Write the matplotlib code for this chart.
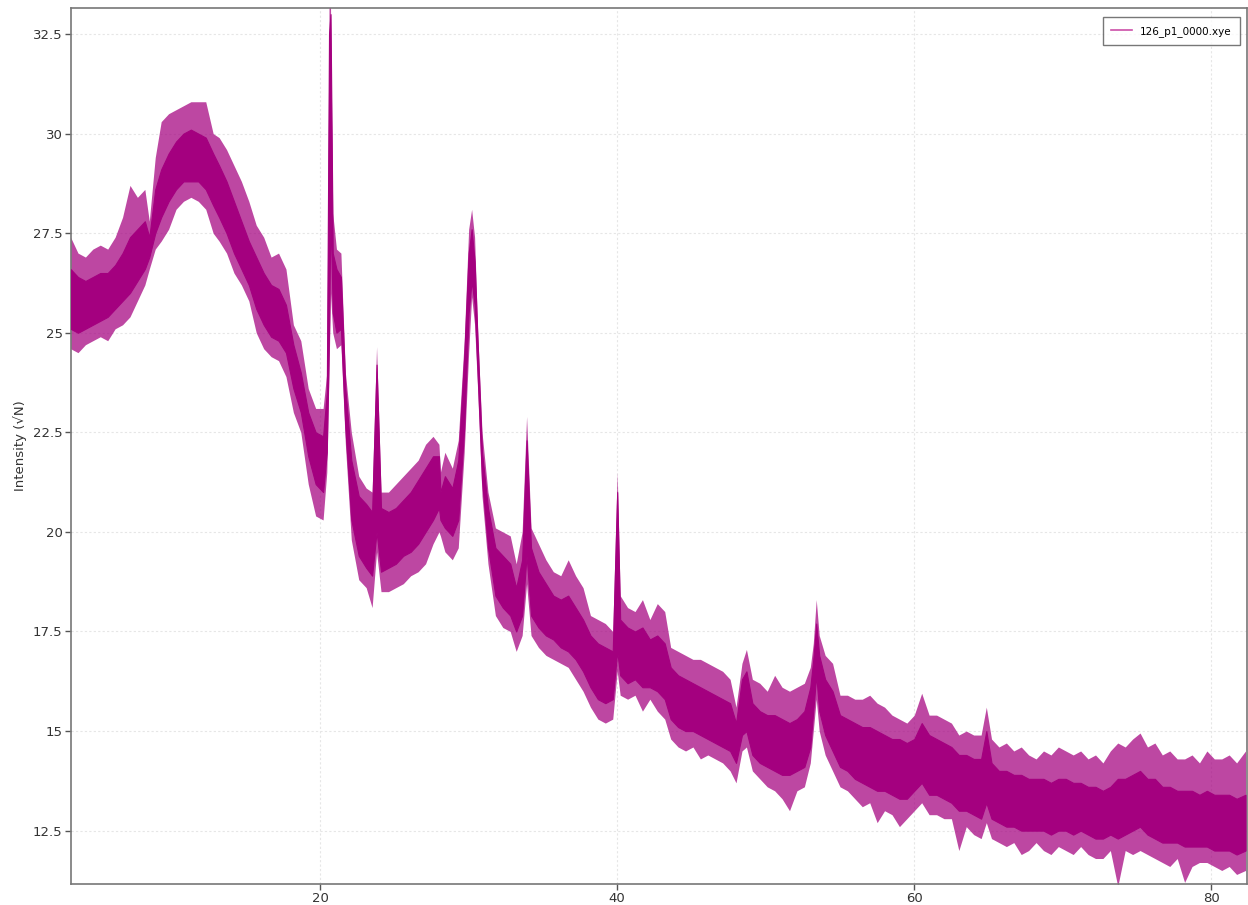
import numpy as np
import matplotlib
matplotlib.use("Agg")
import matplotlib.pyplot as plt

# 2-theta sample positions of the diffraction scan
two_theta = [
    3.2, 3.7, 4.2, 4.7, 5.2, 5.7, 6.2, 6.7, 7.2, 7.7, 8.2, 8.5, 8.9, 9.3, 9.8,
    10.3, 10.8, 11.3, 11.8, 12.3, 12.8, 13.2, 13.7, 14.2, 14.7, 15.2, 15.7,
    16.2, 16.7, 17.2, 17.7, 18.2, 18.7, 19.2, 19.7, 20.2, 20.45, 20.6, 20.7,
    20.85, 21.1, 21.4, 21.7, 22.1, 22.6, 23.1, 23.5, 23.8, 24.1, 24.6, 25.1,
    25.6, 26.1, 26.6, 27.1, 27.6, 28.0, 28.1, 28.4, 28.9, 29.3, 29.7, 30.0,
    30.2, 30.4, 30.6, 30.9, 31.3, 31.8, 32.3, 32.8, 33.2, 33.6, 33.9, 34.2,
    34.7, 35.2, 35.7, 36.2, 36.7, 37.2, 37.7, 38.2, 38.7, 39.2, 39.7, 40.0,
    40.2, 40.7, 41.2, 41.7, 42.2, 42.7, 43.2, 43.6, 44.1, 44.6, 45.1, 45.6,
    46.1, 46.6, 47.1, 47.6, 48.0, 48.4, 48.7, 49.1, 49.6, 50.1, 50.6, 51.1,
    51.6, 52.1, 52.6, 53.0, 53.2, 53.4, 53.6, 54.0, 54.5, 55.0, 55.5, 56.0,
    56.5, 57.0, 57.5, 58.0, 58.5, 59.0, 59.5, 60.0, 60.5, 61.0, 61.5, 62.0,
    62.5, 63.0, 63.5, 64.0, 64.5, 64.85, 65.2, 65.7, 66.2, 66.7, 67.2, 67.7,
    68.2, 68.7, 69.2, 69.7, 70.2, 70.7, 71.2, 71.7, 72.2, 72.7, 73.2, 73.7,
    74.2, 74.7, 75.2, 75.7, 76.2, 76.7, 77.2, 77.7, 78.2, 78.7, 79.2, 79.7,
    80.2, 80.7, 81.2, 81.7, 82.3,
]

# highest counts reached around each position (sqrt scale)
peak_high = [
    27.4, 27.0, 26.9, 27.1, 27.2, 27.1, 27.4, 27.9, 28.7, 28.4, 28.6, 27.8, 29.4, 30.3, 30.5,
    30.6, 30.7, 30.8, 30.8, 30.8, 30.0, 29.9, 29.6, 29.2, 28.8, 28.3, 27.7,
    27.4, 26.9, 27.0, 26.6, 25.2, 24.8, 23.6, 23.1, 23.1, 24.0, 33.2, 33.2,
    28.0, 27.1, 27.0, 24.0, 22.5, 21.4, 21.1, 21.0, 24.65, 21.0, 21.0, 21.2,
    21.4, 21.6, 21.8, 22.2, 22.4, 22.2, 21.5, 22.0, 21.6, 22.3, 24.8, 27.6,
    28.1, 27.4, 25.1, 22.5, 21.0, 20.1, 20.0, 19.9, 19.2, 20.0, 22.9, 20.1,
    19.7, 19.3, 19.0, 18.9, 19.3, 18.9, 18.6, 17.9, 17.8, 17.7, 17.5, 21.5,
    18.4, 18.1, 18.0, 18.3, 17.8, 18.2, 18.0, 17.1, 17.0, 16.9, 16.8, 16.8,
    16.7, 16.6, 16.5, 16.3, 15.6, 16.7, 17.05, 16.3, 16.2, 16.0, 16.4, 16.1,
    16.0, 16.1, 16.2, 16.6, 17.2, 18.3, 17.4, 16.9, 16.7, 15.9, 15.9, 15.8,
    15.8, 15.9, 15.7, 15.6, 15.4, 15.3, 15.2, 15.4, 15.95, 15.4, 15.4, 15.3,
    15.2, 14.9, 15.0, 14.9, 14.9, 15.6, 14.8, 14.6, 14.7, 14.5, 14.6, 14.4,
    14.3, 14.5, 14.4, 14.6, 14.5, 14.4, 14.5, 14.3, 14.4, 14.2, 14.5, 14.7,
    14.6, 14.8, 14.95, 14.6, 14.7, 14.4, 14.5, 14.3, 14.3, 14.4, 14.2, 14.5,
    14.3, 14.3, 14.4, 14.2, 14.5,
]

# lowest counts reached around each position
peak_low = [
    24.6, 24.5, 24.7, 24.8, 24.9, 24.8, 25.1, 25.2, 25.4, 25.8, 26.2, 26.6, 27.1, 27.3, 27.6,
    28.1, 28.3, 28.4, 28.3, 28.1, 27.5, 27.3, 27.0, 26.5, 26.2, 25.8, 25.0,
    24.6, 24.4, 24.3, 23.9, 23.0, 22.5, 21.2, 20.4, 20.3, 21.5, 24.0, 26.0,
    25.0, 24.6, 24.7, 22.2, 19.8, 18.8, 18.6, 18.1, 19.5, 18.5, 18.5, 18.6,
    18.7, 18.9, 19.0, 19.2, 19.7, 20.0, 19.9, 19.5, 19.3, 19.6, 22.0, 24.5,
    25.9, 25.2, 23.6, 20.9, 19.2, 17.9, 17.6, 17.5, 17.0, 17.4, 18.7, 17.4,
    17.1, 16.9, 16.8, 16.7, 16.6, 16.3, 16.0, 15.6, 15.3, 15.2, 15.3, 16.5,
    15.9, 15.8, 15.9, 15.5, 15.8, 15.5, 15.3, 14.8, 14.6, 14.5, 14.6, 14.3,
    14.4, 14.3, 14.2, 14.0, 13.7, 14.5, 14.6, 14.0, 13.8, 13.6, 13.5, 13.3,
    13.0, 13.5, 13.6, 14.2, 15.0, 15.8, 15.0, 14.4, 14.0, 13.6, 13.5, 13.3,
    13.1, 13.2, 12.7, 13.0, 12.9, 12.6, 12.8, 13.0, 13.2, 12.9, 12.9, 12.8,
    12.8, 12.0, 12.6, 12.4, 12.3, 12.7, 12.3, 12.2, 12.1, 12.2, 11.9, 12.0,
    12.2, 12.0, 11.9, 12.1, 12.0, 11.9, 12.1, 11.9, 11.8, 11.8, 12.0, 11.1,
    12.0, 11.9, 12.0, 11.9, 11.8, 11.7, 11.6, 11.8, 11.2, 11.6, 11.7, 11.7,
    11.6, 11.5, 11.6, 11.4, 11.5,
]

# upper and lower edge of the dense part of the trace
core_high = [
    26.6, 26.4, 26.3, 26.4, 26.5, 26.5, 26.7, 27.0, 27.4, 27.6, 27.8, 27.4, 28.6, 29.1, 29.5,
    29.8, 30.0, 30.1, 30.0, 29.9, 29.5, 29.2, 28.8, 28.3, 27.8, 27.3, 26.9,
    26.5, 26.2, 26.1, 25.7, 24.7, 24.0, 23.0, 22.5, 22.4, 23.5, 32.5, 33.0,
    27.0, 26.6, 26.4, 23.6, 21.8, 20.9, 20.7, 20.5, 24.2, 20.6, 20.5, 20.6,
    20.8, 21.0, 21.3, 21.6, 21.9, 21.9, 21.0, 21.4, 21.1, 21.8, 24.4, 27.0,
    27.6, 26.8, 24.8, 22.0, 20.6, 19.6, 19.4, 19.2, 18.6, 19.3, 22.3, 19.6,
    19.0, 18.7, 18.4, 18.3, 18.4, 18.1, 17.8, 17.4, 17.2, 17.1, 17.0, 21.0,
    17.8, 17.6, 17.5, 17.6, 17.3, 17.4, 17.2, 16.6, 16.4, 16.3, 16.2, 16.1,
    16.0, 15.9, 15.8, 15.7, 15.2, 16.3, 16.5, 15.7, 15.5, 15.4, 15.4, 15.3,
    15.2, 15.3, 15.5, 16.1, 16.8, 17.7, 16.9, 16.3, 16.0, 15.4, 15.3, 15.2,
    15.1, 15.1, 15.0, 14.9, 14.8, 14.8, 14.7, 14.8, 15.2, 14.9, 14.8, 14.7,
    14.6, 14.4, 14.4, 14.3, 14.3, 15.0, 14.2, 14.0, 14.0, 13.9, 13.9, 13.8,
    13.8, 13.8, 13.7, 13.8, 13.8, 13.7, 13.7, 13.6, 13.6, 13.5, 13.6, 13.8,
    13.8, 13.9, 14.0, 13.8, 13.8, 13.6, 13.6, 13.5, 13.5, 13.5, 13.4, 13.5,
    13.4, 13.4, 13.4, 13.3, 13.4,
]

core_low = [
    25.1, 25.0, 25.1, 25.2, 25.3, 25.4, 25.6, 25.8, 26.0, 26.3, 26.6, 26.9, 27.5, 27.9, 28.3,
    28.6, 28.8, 28.8, 28.8, 28.6, 28.2, 27.9, 27.5, 27.0, 26.6, 26.2, 25.6,
    25.2, 24.9, 24.8, 24.5, 23.6, 23.0, 21.9, 21.2, 21.0, 22.0, 25.0, 28.0,
    25.5, 25.0, 25.1, 22.6, 20.3, 19.4, 19.1, 18.9, 20.0, 19.0, 19.1, 19.2,
    19.4, 19.5, 19.7, 20.0, 20.3, 20.6, 20.3, 20.1, 19.9, 20.3, 22.6, 25.5,
    26.3, 25.7, 24.0, 21.3, 19.6, 18.4, 18.1, 17.9, 17.5, 17.9, 19.4, 17.9,
    17.6, 17.4, 17.3, 17.1, 17.0, 16.8, 16.5, 16.1, 15.8, 15.7, 15.8, 17.0,
    16.4, 16.2, 16.3, 16.1, 16.1, 16.0, 15.8, 15.3, 15.1, 15.0, 15.0, 14.9,
    14.8, 14.7, 14.6, 14.5, 14.2, 14.9, 15.0, 14.4, 14.2, 14.1, 14.0, 13.9,
    13.9, 14.0, 14.1, 14.6, 15.5, 16.4, 15.5, 14.9, 14.5, 14.1, 14.0, 13.8,
    13.7, 13.6, 13.5, 13.5, 13.4, 13.3, 13.3, 13.5, 13.7, 13.4, 13.4, 13.3,
    13.2, 13.0, 13.0, 12.9, 12.8, 13.2, 12.8, 12.7, 12.6, 12.6, 12.5, 12.5,
    12.5, 12.5, 12.4, 12.5, 12.5, 12.4, 12.5, 12.4, 12.3, 12.3, 12.4, 12.3,
    12.4, 12.5, 12.6, 12.4, 12.3, 12.2, 12.2, 12.2, 12.1, 12.1, 12.1, 12.1,
    12.0, 12.0, 12.0, 11.9, 12.0,
]

x_ticks = [20, 40, 60, 80]
y_ticks = [12.5, 15, 17.5, 20, 22.5, 25, 27.5, 30, 32.5]
y_tick_labels = ["12.5", "15", "17.5", "20", "22.5", "25", "27.5", "30", "32.5"]
series_name = "126_p1_0000.xye"

trace_color = "#a4007f"

fig = plt.figure(figsize=(12.48, 9.05), dpi=100)
ax = fig.add_axes([0.0569, 0.0232, 0.9423, 0.9678])

x = np.array(two_theta)
# outer spikes of the noisy trace
ax.fill_between(x, peak_low, peak_high, color=trace_color, alpha=0.72,
                linewidth=0, zorder=2)
# dense body of the trace
ax.fill_between(x, core_low, core_high, color=trace_color, linewidth=0.8,
                edgecolor=trace_color, zorder=4)

ax.set_xlim(3.23, 82.4)
ax.set_ylim(11.16, 33.15)

ax.set_xticks(x_ticks)
ax.set_xticklabels([str(t) for t in x_ticks])
ax.set_yticks(y_ticks)
ax.set_yticklabels(y_tick_labels)
ax.tick_params(axis="both", direction="out", length=4, width=1, pad=2,
               colors="#555555", labelcolor="#333333", labelsize=9.5)
ax.grid(True, color="#e6e6e6", linestyle=(0, (2, 2)), linewidth=0.8, zorder=0)
ax.set_axisbelow(True)

for side in ("left", "bottom", "top", "right"):
    ax.spines[side].set_color("#777777")
    ax.spines[side].set_linewidth(1.2)

ax.set_ylabel("Intensity (√N)", fontsize=9.5, color="#333333", labelpad=4)

handle, = ax.plot([], [], color="#cc4fa8", linewidth=1.2, label=series_name)
leg = ax.legend(handles=[handle], loc="upper right", fontsize=7.5,
                frameon=True, fancybox=False, borderpad=0.8, handlelength=2.0,
                bbox_to_anchor=(0.9985, 0.9955))
leg.get_frame().set_edgecolor("#555555")
leg.get_frame().set_linewidth(1.0)

fig.savefig("out.png", dpi=100)
